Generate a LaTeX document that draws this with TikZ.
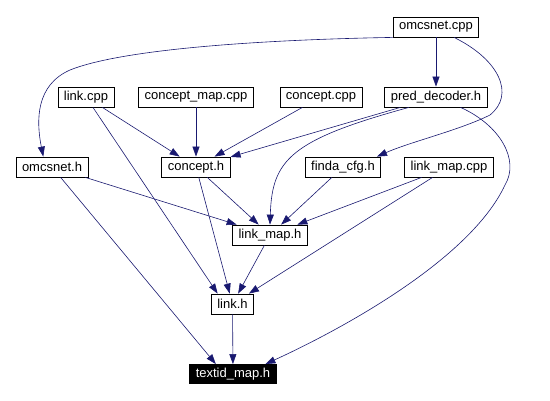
\documentclass[tikz,border=0pt]{standalone}
\usepackage{fontspec}
\setmainfont{Liberation Sans}
\usetikzlibrary{arrows.meta}
\definecolor{edgeblue}{HTML}{191970}
\tikzset{
  file/.style={draw, line width=0.8pt, inner xsep=6pt, inner ysep=0pt, minimum height=20pt, font=\fontsize{13}{15}\selectfont},
  dep/.style={draw=edgeblue, line width=0.6pt, -{Triangle[length=10pt,width=7pt]}},
}
\begin{document}
\begin{tikzpicture}[x=1pt,y=-1pt]
\useasboundingbox (0,0) rectangle (550,401);
% Define the files
\node[file] (omcsnetcpp) at (436,27) {omcsnet.cpp};
\node[file] (linkcpp) at (86,97) {link.cpp};
\node[file] (conceptmapcpp) at (196,97) {concept\_map.cpp};
\node[file] (conceptcpp) at (321,97) {concept.cpp};
\node[file] (preddecoder) at (436,97) {pred\_decoder.h};
\node[file] (omcsneth) at (52,167) {omcsnet.h};
\node[file] (concepth) at (196,167) {concept.h};
\node[file] (findacfg) at (343,167) {finda\_cfg.h};
\node[file] (linkmapcpp) at (449,167) {link\_map.cpp};
\node[file] (linkmaph) at (270,235) {link\_map.h};
\node[file] (linkh) at (232.5,304) {link.h};
\node[file, fill=black, text=white, minimum height=19pt] (textidmap) at (233,374) {textid\_map.h};
% Straight includes
\foreach \a/\b in {omcsnetcpp/preddecoder, linkcpp/concepth, linkcpp/linkh.145,
  conceptmapcpp/concepth, conceptcpp/concepth, preddecoder/concepth,
  omcsneth/linkmaph, omcsneth/textidmap.150, concepth/linkmaph, concepth/linkh,
  findacfg/linkmaph, linkmapcpp/linkmaph, linkmapcpp/linkh, linkmaph/linkh, linkh/textidmap}
  \draw[dep] (\a) -- (\b);
% Curved includes
\draw[dep] (omcsnetcpp.south west) .. controls (250,40) and (120,50) .. (70,70) .. controls (36,85) and (36,120) .. (omcsneth.130);
\draw[dep] (omcsnetcpp.-30) .. controls (500,60) and (515,95) .. (490,115) .. controls (460,130) and (410,142) .. (findacfg.17);
\draw[dep] (preddecoder.201) .. controls (290,140) and (272,160) .. (linkmaph.north);
\draw[dep] (preddecoder.-23) .. controls (500,125) and (520,160) .. (505,185) .. controls (470,260) and (340,330) .. (textidmap.17);
\end{tikzpicture}
\end{document}
